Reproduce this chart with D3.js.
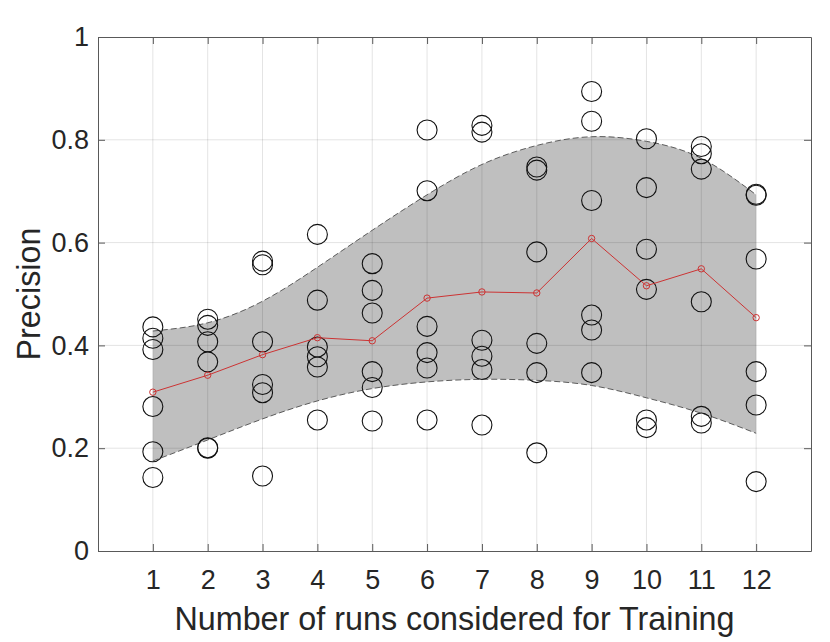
<!DOCTYPE html>
<html>
<head>
<meta charset="utf-8">
<script src="https://cdn.jsdelivr.net/npm/d3@7"></script>
<style>
	body { margin: 0; background: #fff; }
	svg text { font-family: "Liberation Sans", Arial, Helvetica, sans-serif; fill: #262626; }
	.tick_label { font-size: 27px; }
	.axis_label { font-size: 32.3px; }
	.band { fill: #bfbfbf; stroke: none; }
	.band_edge { fill: none; stroke: #4d4d4d; stroke-width: 0.9; stroke-dasharray: 6,3; }
	.grid line { stroke: #000; stroke-opacity: 0.11; stroke-width: 1; }
	.sample_points { fill: none; stroke: #111; stroke-width: 1.1; }
	.mean_line { fill: none; stroke: #cc3333; stroke-width: 1; }
	.mean_points { fill: none; stroke: #cc3333; stroke-width: 1; }
	.axis path, .axis line { stroke: #595959; stroke-width: 1; }
</style>
</head>
<body>
<script>
// x = number of runs considered for training
const runs = [1, 2, 3, 4, 5, 6, 7, 8, 9, 10, 11, 12];

// six precision samples per run count
const precisionSamples = [
	[0.436, 0.414, 0.392, 0.281, 0.193, 0.143],
	[0.451, 0.439, 0.407, 0.368, 0.200, 0.201],
	[0.564, 0.557, 0.407, 0.324, 0.308, 0.146],
	[0.616, 0.488, 0.397, 0.378, 0.358, 0.255],
	[0.559, 0.507, 0.463, 0.349, 0.318, 0.253],
	[0.819, 0.701, 0.437, 0.386, 0.356, 0.255],
	[0.828, 0.815, 0.410, 0.379, 0.353, 0.245],
	[0.747, 0.741, 0.582, 0.404, 0.347, 0.191],
	[0.894, 0.836, 0.682, 0.459, 0.430, 0.347],
	[0.802, 0.707, 0.587, 0.509, 0.255, 0.240],
	[0.787, 0.773, 0.743, 0.485, 0.262, 0.249],
	[0.694, 0.692, 0.568, 0.349, 0.284, 0.135]
];

// red line: mean precision per run count
const meanPrecision = [0.309, 0.342, 0.382, 0.415, 0.409, 0.492, 0.504, 0.502, 0.608, 0.516, 0.549, 0.454];

// grey band edges (dashed curves)
const bandUpper = [0.428, 0.444, 0.486, 0.552, 0.624, 0.693, 0.752, 0.789, 0.806, 0.797, 0.764, 0.693];
const bandLower = [0.175, 0.216, 0.257, 0.292, 0.316, 0.329, 0.334, 0.332, 0.322, 0.298, 0.268, 0.229];

const yTicks = [0, 0.2, 0.4, 0.6, 0.8, 1];

let margin = {top: 37, right: 19, bottom: 91, left: 98};
let width = 830 - margin.left - margin.right;
let height = 642 - margin.top - margin.bottom;

let xScale = d3.scaleLinear().domain([0, 13]).range([0, width]);
let yScale = d3.scaleLinear().domain([0, 1]).range([height, 0]);

let svg = d3.select("body").append("svg")
	.attr("width", 830)
	.attr("height", 642);

let chart = svg.append("g")
	.attr("transform", "translate(" + margin.left + "," + margin.top + ")");

let bandData = runs.map(function(r, i) {
	return {x: r, hi: bandUpper[i], lo: bandLower[i]};
});

// grey band
let band_area = d3.area()
	.curve(d3.curveNatural)
	.x(function(d) { return xScale(d.x); })
	.y0(function(d) { return yScale(d.lo); })
	.y1(function(d) { return yScale(d.hi); });

chart.append("path")
	.data([bandData])
	.attr("class", "band")
	.attr("d", band_area);

// grid on top of the band
chart.append("g")
	.attr("class", "grid")
	.selectAll("line.gx")
	.data(runs)
	.enter().append("line")
		.attr("x1", function(d) { return xScale(d); })
		.attr("x2", function(d) { return xScale(d); })
		.attr("y1", 0)
		.attr("y2", height);

chart.select(".grid")
	.selectAll("line.gy")
	.data(yTicks.slice(1, -1))
	.enter().append("line")
		.attr("x1", 0)
		.attr("x2", width)
		.attr("y1", function(d) { return yScale(d); })
		.attr("y2", function(d) { return yScale(d); });

// dashed edges
let upper_line = d3.line()
	.curve(d3.curveNatural)
	.x(function(d) { return xScale(d.x); })
	.y(function(d) { return yScale(d.hi); });

let lower_line = d3.line()
	.curve(d3.curveNatural)
	.x(function(d) { return xScale(d.x); })
	.y(function(d) { return yScale(d.lo); });

chart.append("path")
	.data([bandData])
	.attr("class", "band_edge")
	.attr("d", upper_line);

chart.append("path")
	.data([bandData])
	.attr("class", "band_edge")
	.attr("d", lower_line);

// sample circles
let samples = [];
runs.forEach(function(r, i) {
	precisionSamples[i].forEach(function(v) { samples.push({x: r, y: v}); });
});

chart.selectAll("sample_dots")
		.data(samples)
	.enter().append("circle")
		.attr("class", "sample_points")
		.attr("r", 10)
		.attr("cx", function(d) { return xScale(d.x); })
		.attr("cy", function(d) { return yScale(d.y); });

// mean line + markers
let meanData = runs.map(function(r, i) { return {x: r, y: meanPrecision[i]}; });

let mean_line = d3.line()
	.x(function(d) { return xScale(d.x); })
	.y(function(d) { return yScale(d.y); });

chart.append("path")
	.data([meanData])
	.attr("class", "mean_line")
	.attr("d", mean_line);

chart.selectAll("mean_dots")
		.data(meanData)
	.enter().append("circle")
		.attr("class", "mean_points")
		.attr("r", 3.2)
		.attr("cx", function(d) { return xScale(d.x); })
		.attr("cy", function(d) { return yScale(d.y); });

// axes, ticks pointing inward (box on)
chart.append("g")
	.attr("class", "axis")
	.attr("transform", "translate(0," + height + ")")
	.call(d3.axisBottom(xScale).tickValues(runs).tickFormat(d3.format("d"))
		.tickSizeInner(-7).tickSizeOuter(0).tickPadding(19));

chart.append("g")
	.attr("class", "axis")
	.call(d3.axisTop(xScale).tickValues(runs).tickFormat("")
		.tickSizeInner(-7).tickSizeOuter(0));

chart.append("g")
	.attr("class", "axis")
	.call(d3.axisLeft(yScale).tickValues(yTicks).tickFormat(d3.format("~g"))
		.tickSizeInner(-7).tickSizeOuter(0).tickPadding(9));

chart.append("g")
	.attr("class", "axis")
	.attr("transform", "translate(" + width + ",0)")
	.call(d3.axisRight(yScale).tickValues(yTicks).tickFormat("")
		.tickSizeInner(-7).tickSizeOuter(0));

chart.selectAll(".axis text")
	.attr("class", "tick_label");

chart.selectAll(".axis").attr("font-size", null).attr("font-family", null);

// axis labels
chart.append("text")
	.attr("class", "axis_label")
	.attr("text-anchor", "middle")
	.attr("x", width / 2)
	.attr("y", height + 79)
	.text("Number of runs considered for Training");

chart.append("text")
	.attr("class", "axis_label")
	.attr("text-anchor", "middle")
	.attr("transform", "translate(" + (40 - margin.left) + "," + (height / 2) + ") rotate(-90)")
	.text("Precision");
</script>
</body>
</html>
